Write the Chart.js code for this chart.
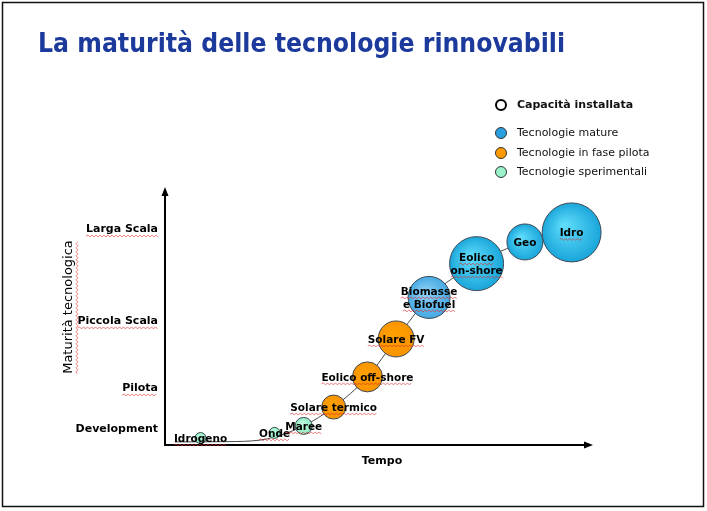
<!DOCTYPE html>
<html>
<head>
<meta charset="utf-8">
<script src="https://cdn.jsdelivr.net/npm/chart.js@4/dist/chart.umd.min.js"></script>
<style>
  html, body { margin: 0; padding: 0; background: #ffffff; }
  #wrap { position: relative; width: 707px; height: 511px; }
</style>
</head>
<body>
<div id="wrap"><canvas id="c" width="707" height="511"></canvas></div>
<script>
// ---- Data ----
const titleText = 'La maturità delle tecnologie rinnovabili';
const xAxisTitle = 'Tempo';
const yAxisTitle = 'Maturità tecnologica';

const maturityLabels = ['Development', 'Pilota', 'Piccola Scala', 'Larga Scala'];
const maturityLevels = [6.2, 22.1, 48.1, 83.7];

const technologies = ['Idrogeno', 'Onde', 'Maree', 'Solare termico', 'Eolico off-shore',
                      'Solare FV', 'Biomasse\ne Biofuel', 'Eolico\non-shore', 'Geo', 'Idro'];
const tempo      = [8.3, 25.6, 32.4, 39.4, 47.3, 54.0, 61.7, 72.8, 84.1, 95.0];
const maturita   = [2.7, 4.7, 7.4, 14.7, 26.4, 41.1, 57.2, 70.3, 78.7, 82.4];
const capacita   = [5.5, 5.5, 8.5, 12, 15, 18, 21, 27, 18, 29.5];
const gruppo     = ['sperimentali', 'sperimentali', 'sperimentali', 'pilota', 'pilota',
                    'pilota', 'mature', 'mature', 'mature', 'mature'];

const trendX = [2.3, 14.5, 22.2, 25.6, 32.4, 39.4, 47.3, 54.0, 61.7, 72.8, 84.1, 95.0];
const trendY = [1.2, 1.3, 1.9, 3.1, 7.4, 14.7, 26.4, 41.1, 57.2, 70.3, 78.7, 82.4];

const legendTitle = 'Capacità installata';
const legendLabels = ['Tecnologie mature', 'Tecnologie in fase pilota', 'Tecnologie sperimentali'];
const groupKeys = ['mature', 'pilota', 'sperimentali'];

// ---- Styles ----
const FONT = '"DejaVu Sans", Verdana, sans-serif';
const groupStyle = {
  mature:       { inner: '#5fdcfb', outer: '#1aa6da', legend: '#2a9fe0' },
  pilota:       { inner: '#ffa000', outer: '#f99400', legend: '#ff9900' },
  sperimentali: { inner: '#c2fde2', outer: '#8eecc0', legend: '#99f2c8' }
};
const altBlue = { 'Biomasse\ne Biofuel': { inner: '#8ed2f7', outer: '#46a9e2' } };

function buildDataset(key) {
  const idx = technologies.map((t, i) => i).filter(i => gruppo[i] === key);
  return {
    type: 'bubble',
    label: key,
    order: 1,
    clip: false,
    data: idx.map(i => ({ x: tempo[i], y: maturita[i], r: capacita[i], name: technologies[i] })),
    borderColor: '#3d4a57',
    borderWidth: 1,
    backgroundColor: (ctx) => {
      const raw = ctx.raw;
      const st = (raw && altBlue[raw.name]) || groupStyle[key];
      const ch = ctx.chart;
      if (!raw || !ch.scales || !ch.scales.x || !ch.chartArea) return st.outer;
      const px = ch.scales.x.getPixelForValue(raw.x);
      const py = ch.scales.y.getPixelForValue(raw.y);
      if (!isFinite(px) || !isFinite(py)) return st.outer;
      const r = raw.r;
      const g = ch.ctx.createRadialGradient(px - r * 0.25, py - r * 0.25, r * 0.05, px, py, r);
      g.addColorStop(0, st.inner);
      g.addColorStop(1, st.outer);
      return g;
    }
  };
}

function wavy(ctx, x1, x2, y) {
  ctx.save();
  ctx.strokeStyle = 'rgba(220,40,40,0.6)';
  ctx.lineWidth = 1;
  ctx.beginPath();
  let up = true;
  ctx.moveTo(x1, y);
  for (let x = x1 + 2; x <= x2; x += 2) {
    ctx.lineTo(x, up ? y - 1 : y + 1);
    up = !up;
  }
  ctx.stroke();
  ctx.restore();
}

const decor = {
  id: 'decor',
  beforeDraw(chart) {
    const ctx = chart.ctx;
    ctx.save();
    ctx.fillStyle = '#ffffff';
    ctx.fillRect(0, 0, chart.width, chart.height);
    ctx.restore();
  },
  afterDatasetsDraw(chart) {
    const ctx = chart.ctx;
    const a = chart.chartArea;
    ctx.save();
    // axes with arrows
    ctx.strokeStyle = '#000';
    ctx.fillStyle = '#000';
    ctx.lineWidth = 2;
    ctx.beginPath();
    ctx.moveTo(a.left, a.bottom);
    ctx.lineTo(a.left, a.top + 6);
    ctx.moveTo(a.left - 1, a.bottom);
    ctx.lineTo(a.right - 6, a.bottom);
    ctx.stroke();
    ctx.beginPath();
    ctx.moveTo(a.left, a.top);
    ctx.lineTo(a.left - 3.5, a.top + 9);
    ctx.lineTo(a.left + 3.5, a.top + 9);
    ctx.closePath();
    ctx.fill();
    ctx.beginPath();
    ctx.moveTo(a.right, a.bottom);
    ctx.lineTo(a.right - 9, a.bottom - 3.5);
    ctx.lineTo(a.right - 9, a.bottom + 3.5);
    ctx.closePath();
    ctx.fill();

    // bubble labels
    ctx.font = 'bold 10.5px ' + FONT;
    ctx.textAlign = 'center';
    ctx.textBaseline = 'middle';
    ctx.fillStyle = '#000';
    chart.data.datasets.forEach((ds, di) => {
      if (ds.type !== 'bubble') return;
      const meta = chart.getDatasetMeta(di);
      meta.data.forEach((el, i) => {
        const lines = ds.data[i].name.split('\n');
        const lh = 13;
        const y0 = el.y + 1 - (lines.length - 1) * lh / 2;
        lines.forEach((ln, k) => {
          ctx.fillText(ln, el.x, y0 + k * lh);
          const w = ctx.measureText(ln).width;
          if (ln !== 'Geo') wavy(ctx, el.x - w / 2, el.x + w / 2, y0 + k * lh + 6);
        });
      });
    });
    ctx.restore();
  },
  afterDraw(chart) {
    const ctx = chart.ctx;
    const a = chart.chartArea;
    ctx.save();
    // frame
    ctx.strokeStyle = '#111';
    ctx.lineWidth = 1.5;
    ctx.strokeRect(2.5, 2.5, 701, 504);

    // title
    ctx.fillStyle = '#1c399c';
    ctx.font = 'bold 26px ' + FONT;
    ctx.textAlign = 'left';
    ctx.textBaseline = 'alphabetic';
    const tw = ctx.measureText(titleText).width;
    const sx = 527 / tw;
    ctx.translate(38, 52);
    ctx.scale(sx, 1);
    ctx.fillText(titleText, 0, 0);
    ctx.restore();

    ctx.save();
    // x axis title
    ctx.fillStyle = '#000';
    ctx.font = 'bold 11px ' + FONT;
    ctx.textAlign = 'center';
    ctx.textBaseline = 'middle';
    ctx.fillText(xAxisTitle, (a.left + a.right) / 2 + 3, 461);

    // y axis title
    ctx.save();
    ctx.translate(69, 307);
    ctx.rotate(-Math.PI / 2);
    ctx.font = '13px ' + FONT;
    ctx.fillText(yAxisTitle, 0, 0);
    const yw = ctx.measureText(yAxisTitle).width;
    wavy(ctx, -yw / 2, yw / 2, 8);
    ctx.restore();

    // y tick underlines
    ctx.font = 'bold 11px ' + FONT;
    const ys = chart.scales.y;
    maturityLevels.forEach((v, i) => {
      if (maturityLabels[i] === 'Development') return;
      const w = ctx.measureText(maturityLabels[i]).width;
      const y = ys.getPixelForValue(v);
      wavy(ctx, a.left - 7 - w, a.left - 7, y + 7);
    });

    // legend
    ctx.textAlign = 'left';
    ctx.textBaseline = 'middle';
    ctx.beginPath();
    ctx.arc(501, 105, 5, 0, Math.PI * 2);
    ctx.lineWidth = 2;
    ctx.strokeStyle = '#000';
    ctx.stroke();
    ctx.font = 'bold 11px ' + FONT;
    ctx.fillStyle = '#111';
    ctx.fillText(legendTitle, 517, 105);
    const rowsY = [133, 153, 172];
    ctx.font = '11px ' + FONT;
    legendLabels.forEach((lab, i) => {
      ctx.beginPath();
      ctx.arc(501, rowsY[i], 5.5, 0, Math.PI * 2);
      ctx.fillStyle = groupStyle[groupKeys[i]].legend;
      ctx.fill();
      ctx.lineWidth = 1;
      ctx.strokeStyle = '#333';
      ctx.stroke();
      ctx.fillStyle = '#111';
      ctx.fillText(lab, 517, rowsY[i]);
    });
    ctx.restore();
  }
};

const datasets = groupKeys.map(buildDataset);
datasets.push({
  type: 'line',
  label: 'trend',
  order: 2,
  data: trendX.map((x, i) => ({ x: x, y: trendY[i] })),
  borderColor: '#4a4a4a',
  borderWidth: 1,
  pointRadius: 0,
  fill: false,
  cubicInterpolationMode: 'monotone',
  clip: false
});

new Chart(document.getElementById('c'), {
  type: 'bubble',
  data: { datasets: datasets },
  options: {
    responsive: false,
    animation: false,
    devicePixelRatio: 1,
    layout: { padding: { left: 0, top: 187, right: 114, bottom: 0 } },
    plugins: { legend: { display: false }, tooltip: { enabled: false }, title: { display: false } },
    scales: {
      x: {
        type: 'linear', min: 0, max: 100,
        grid: { display: false, drawTicks: false },
        border: { display: false },
        ticks: { display: false },
        afterFit: (s) => { s.height = 66; }
      },
      y: {
        type: 'linear', min: 0, max: 100,
        grid: { display: false, drawTicks: false },
        border: { display: false },
        afterBuildTicks: (s) => { s.ticks = maturityLevels.map(v => ({ value: v })); },
        ticks: {
          padding: 7,
          color: '#000',
          font: { family: FONT, size: 11, weight: 'bold' },
          callback: (v) => { const i = maturityLevels.indexOf(v); return i >= 0 ? maturityLabels[i] : ''; }
        },
        afterFit: (s) => { s.width = 165; }
      }
    }
  },
  plugins: [decor]
});
</script>
</body>
</html>
